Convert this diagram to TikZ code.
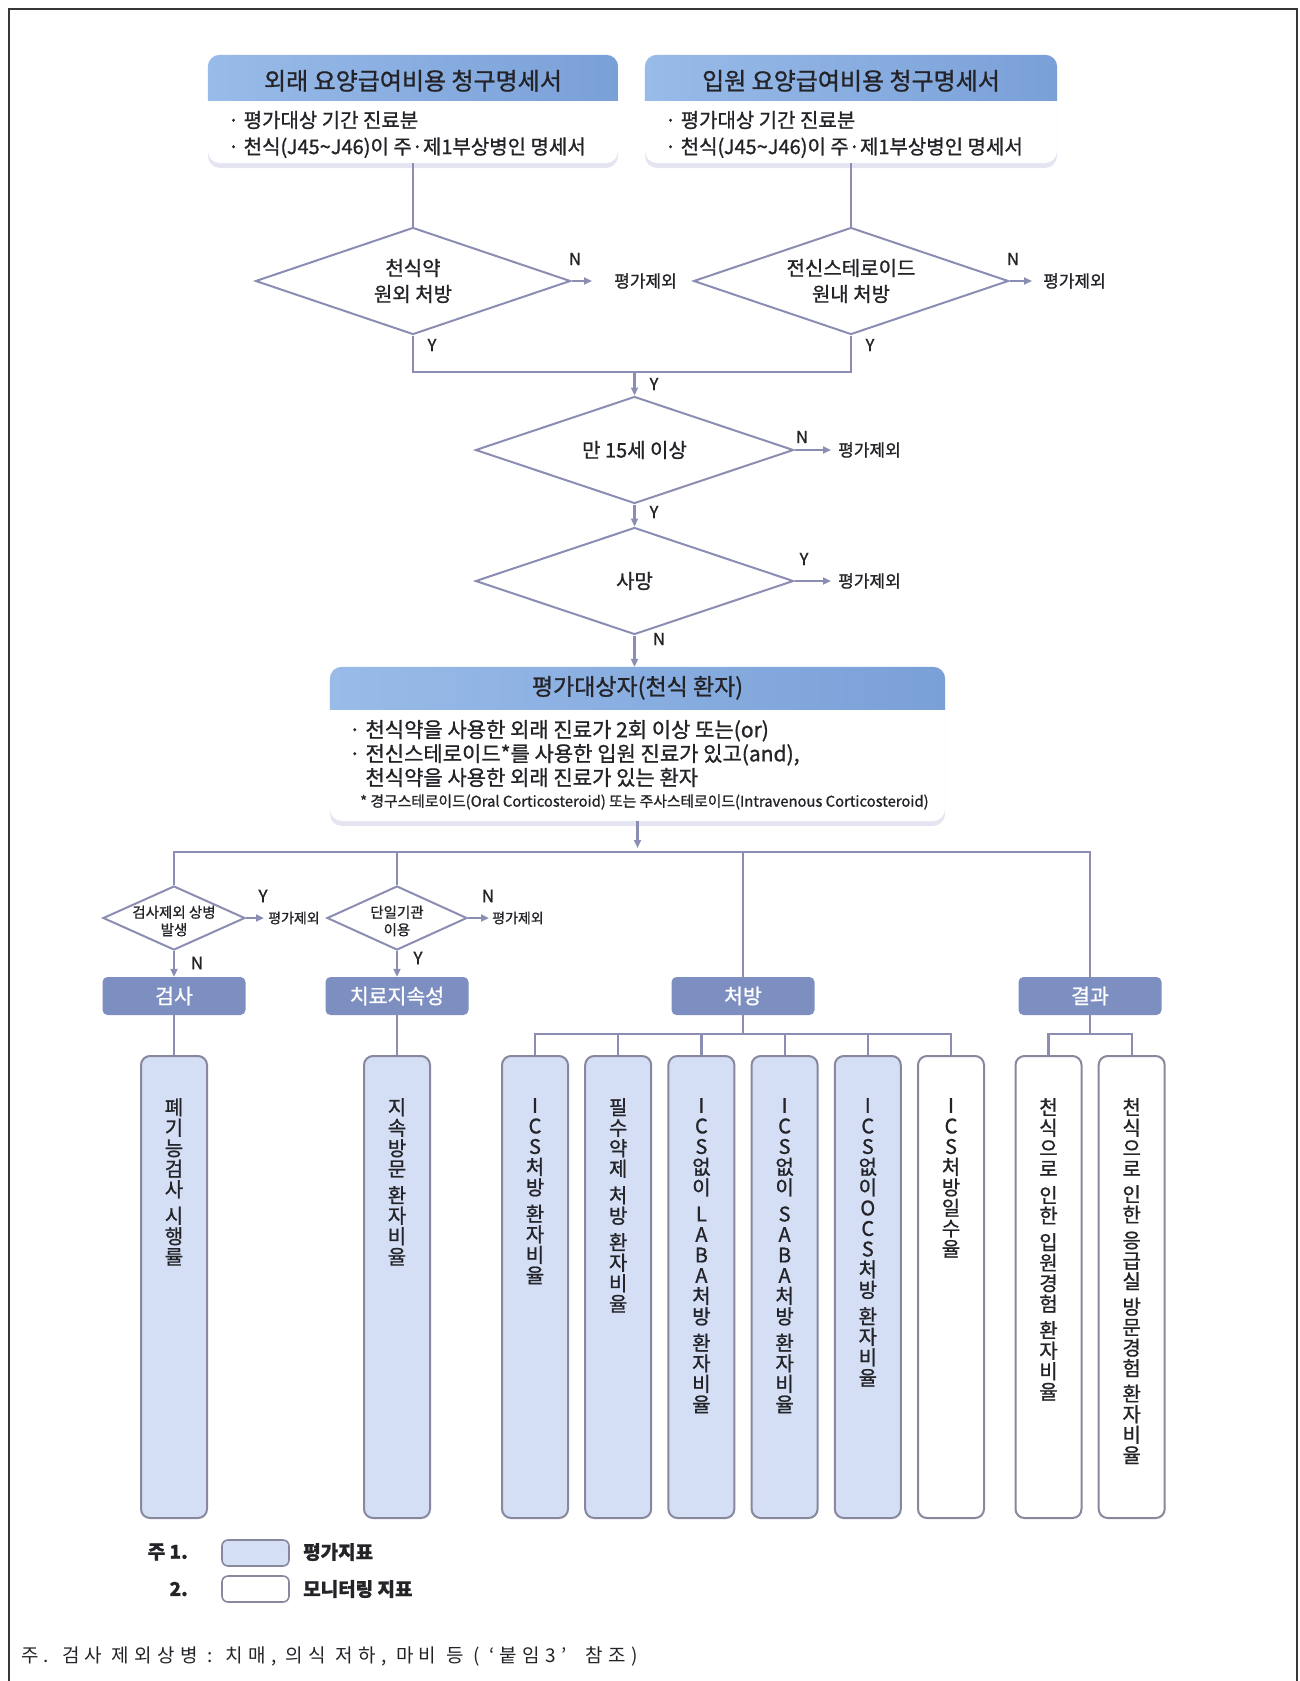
\documentclass[tikz,border=0pt]{standalone}
\usepackage{fontspec}
\setmainfont{Noto Sans CJK KR}[FakeBold=1]
\newfontfamily\notefont{Noto Sans CJK KR}[LetterSpace=28]
\usetikzlibrary{calc,arrows.meta,shapes.geometric,shadows}

\definecolor{flowline}{RGB}{139,141,178}
\definecolor{headlight}{RGB}{152,187,232}
\definecolor{headdark}{RGB}{122,160,216}
\definecolor{catfill}{RGB}{125,143,192}
\definecolor{evalfill}{RGB}{212,223,245}
\definecolor{boxline}{RGB}{135,136,158}
\definecolor{framegray}{RGB}{55,55,55}
\definecolor{shadowc}{RGB}{165,170,210}
\definecolor{inkc}{RGB}{35,35,40}

\tikzset{
  conn/.style={draw=flowline, line width=2.2pt},
  arr/.style={conn, -{Triangle[length=8pt,width=7pt]}},
  decision/.style={diamond, draw=flowline, line width=2pt, fill=white, inner sep=0pt},
  dtext/.style={align=center, inner sep=0pt, text=inkc, font=\fontsize{20}{26}\selectfont},
  dsmall/.style={align=center, inner sep=0pt, text=inkc, font=\fontsize{14.5}{17.5}\selectfont},
  excl/.style={anchor=west, inner sep=1pt, text=inkc, font=\fontsize{17}{18}\selectfont},
  exsmall/.style={excl, font=\fontsize{14}{16}\selectfont},
  yn/.style={inner sep=0pt, text=inkc, font=\fontsize{16.5}{18}\selectfont},
  ynbig/.style={yn, font=\fontsize{17}{18}\selectfont},
  infobox/.style={fill=white, rounded corners=12pt,
    drop shadow={shadow xshift=0pt, shadow yshift=-5pt, opacity=0.3, fill=shadowc}},
  headtext/.style={inner sep=0pt, text=inkc, font=\fontsize{24}{26}\selectfont},
  bodytext/.style={anchor=north west, align=left, inner sep=0pt, text=inkc, font=\fontsize{20}{26.5}\selectfont},
  category/.style={fill=catfill, rounded corners=5pt, minimum width=143pt, minimum height=38pt,
    text=white, font=\fontsize{20.5}{22}\selectfont},
  indicator/.style={draw=boxline, line width=2pt, rounded corners=9pt, minimum width=66pt, minimum height=462pt},
  evalind/.style={indicator, fill=evalfill},
  monind/.style={indicator, fill=white},
  vtext/.style={anchor=north, inner sep=0pt, align=center, text=inkc, font=\fontsize{20}{20.5}\selectfont},
  keybox/.style={draw=boxline, line width=1.6pt, rounded corners=6pt, minimum width=67pt, minimum height=26pt},
  keytext/.style={inner sep=0pt, text=inkc, font=\bfseries\fontsize{19}{20}\selectfont}
}

\begin{document}
\begin{tikzpicture}[x=1pt, y=-1pt]
  \useasboundingbox (0,0) rectangle (1300,1681);
  \draw[framegray, line width=2pt] (9,1700) -- (9,9) -- (1297,9) -- (1297,1700);

  \node[infobox, minimum width=410pt, minimum height=108pt] (opbox) at (413,109) {};
  \begin{scope}
    \clip[rounded corners=12pt] (opbox.north west) rectangle (opbox.south east);
    \shade[left color=headlight, right color=headdark] (opbox.north west) rectangle ($(opbox.north east)+(0,-46pt)$);
  \end{scope}
  \node[headtext] (optitle) at ($(opbox.north)+(0,-26pt)$) {외래 요양급여비용 청구명세서};
  \node[bodytext] (opbody) at ($(opbox.north west)+(20pt,-56pt)$)
    {· 평가대상 기간 진료분\\· 천식(J45\textasciitilde J46)이 주·제1부상병인 명세서};

  \node[infobox, minimum width=412pt, minimum height=108pt] (ipbox) at (851,109) {};
  \begin{scope}
    \clip[rounded corners=12pt] (ipbox.north west) rectangle (ipbox.south east);
    \shade[left color=headlight, right color=headdark] (ipbox.north west) rectangle ($(ipbox.north east)+(0,-46pt)$);
  \end{scope}
  \node[headtext] (iptitle) at ($(ipbox.north)+(0,-26pt)$) {입원 요양급여비용 청구명세서};
  \node[bodytext] (ipbody) at ($(ipbox.north west)+(20pt,-56pt)$)
    {· 평가대상 기간 진료분\\· 천식(J45\textasciitilde J46)이 주·제1부상병인 명세서};

  \node[decision, minimum width=315pt, minimum height=107pt,
    label={[dtext, name=d1t]center:{천식약\\원외 처방}}] (d1) at (413,281) {};
  \node[decision, minimum width=315pt, minimum height=107pt,
    label={[dtext, name=d2t]center:{전신스테로이드\\원내 처방}}] (d2) at (851,281) {};
  \draw[conn] (opbox.south) -- (d1.north);
  \draw[conn] (ipbox.south) -- (d2.north);

  \node[excl] (ex1) at (613,281) {평가제외};
  \node[excl] (ex2) at (1042,281) {평가제외};
  \draw[arr, shorten >=21pt] (d1.east) -- (ex1.west);
  \draw[arr, shorten >=10pt] (d2.east) -- (ex2.west);
  \node[yn] (n1) at (575,259) {N};
  \node[yn] (n2) at (1013,259) {N};
  \node[yn] (y1) at (432,345) {Y};
  \node[yn] (y2) at (870,345) {Y};

  \coordinate (merge) at (634.5,372);
  \draw[conn] (d1.south) |- (merge) -| (d2.south);
  \node[yn] (y12) at (654,384) {Y};

  \node[decision, minimum width=318pt, minimum height=107pt,
    label={[dtext, name=d3t]center:{만 15세 이상}}] (d3) at (634.5,450) {};
  \node[decision, minimum width=318pt, minimum height=107pt,
    label={[dtext, name=d4t]center:{사망}}] (d4) at (634.5,581) {};
  \draw[arr] (merge) -- (d3.north);
  \draw[arr] (d3.south) -- (d4.north);
  \node[yn] (y3) at (654,512) {Y};
  \node[excl] (ex3) at (837,450) {평가제외};
  \node[excl] (ex4) at (837,581) {평가제외};
  \draw[arr, shorten >=6pt] (d3.east) -- (ex3.west);
  \draw[arr, shorten >=6pt] (d4.east) -- (ex4.west);
  \node[yn] (n3) at (802,437) {N};
  \node[yn] (y4) at (804,559) {Y};
  \node[yn] (n4) at (659,639) {N};

  \node[infobox, minimum width=615pt, minimum height=154pt] (tbox) at (637.5,744) {};
  \begin{scope}
    \clip[rounded corners=12pt] (tbox.north west) rectangle (tbox.south east);
    \shade[left color=headlight, right color=headdark] (tbox.north west) rectangle ($(tbox.north east)+(0,-43pt)$);
  \end{scope}
  \draw[arr] (d4.south) -- (d4.south |- tbox.north);
  \node[headtext, font=\fontsize{23}{26}\selectfont] (ttitle) at ($(tbox.north)+(0,-21pt)$) {평가대상자(천식 환자)};
  \node[bodytext, font=\fontsize{21}{24}\selectfont] (tbody) at ($(tbox.north west)+(19pt,-53pt)$)
    {· 천식약을 사용한 외래 진료가 2회 이상 또는(or)\\· 전신스테로이드*를 사용한 입원 진료가 있고(and),\\\phantom{· }천식약을 사용한 외래 진료가 있는 환자};
  \node[anchor=west, inner sep=0pt, text=inkc, font=\fontsize{14.8}{16}\selectfont] (tnote) at (360,802)
    {* 경구스테로이드(Oral Corticosteroid) 또는 주사스테로이드(Intravenous Corticosteroid)};

  \coordinate (bus) at (637.5,852);
  \draw[arr, shorten >=4pt] (tbox.south) -- (bus);

  \node[decision, minimum width=142pt, minimum height=64pt,
    label={[dsmall, name=d5t, yshift=-3pt]center:{검사제외 상병\\발생}}] (d5) at (174,918) {};
  \node[decision, minimum width=140pt, minimum height=64pt,
    label={[dsmall, name=d6t, yshift=-3pt]center:{단일기관\\이용}}] (d6) at (397,918) {};
  \node[exsmall] (ex5) at (267,918) {평가제외};
  \node[exsmall] (ex6) at (491,918) {평가제외};
  \draw[arr, shorten >=3pt] (d5.east) -- (ex5.west);
  \draw[arr, shorten >=2pt] (d6.east) -- (ex6.west);
  \node[ynbig] (y5) at (263,896) {Y};
  \node[ynbig] (n6) at (488,896) {N};
  \node[ynbig] (n5) at (197,963) {N};
  \node[ynbig] (y6) at (418,958) {Y};

  \node[category] (cat1) at (174,996) {검사};
  \node[category] (cat2) at (397,996) {치료지속성};
  \node[category] (cat3) at (743,996) {처방};
  \node[category] (cat4) at (1090,996) {결과};

  \draw[conn] (d5.north) |- (bus) -| (cat4.north);
  \draw[conn] (d6.north) -- (d6.north |- bus);
  \draw[conn] (cat3.north) -- (cat3.north |- bus);
  \draw[arr] (d5.south) -- (cat1.north);
  \draw[arr] (d6.south) -- (cat2.north);

  \node[evalind] (i1) at (174,1287) {};
  \node[evalind] (i2) at (397,1287) {};
  \node[evalind] (i3) at (535,1287) {};
  \node[evalind] (i4) at (618.2,1287) {};
  \node[evalind] (i5) at (701.4,1287) {};
  \node[evalind] (i6) at (784.6,1287) {};
  \node[evalind] (i7) at (867.8,1287) {};
  \node[monind] (i8) at (951,1287) {};
  \node[monind] (i9) at (1048.5,1287) {};
  \node[monind] (i10) at (1131.7,1287) {};

  \draw[conn] (cat1.south) -- (i1.north);
  \draw[conn] (cat2.south) -- (i2.north);
  \coordinate (rxbus) at (743,1034);
  \draw[conn] (cat3.south) -- (rxbus);
  \draw[conn] (i3.north) |- (rxbus) -| (i8.north);
  \draw[conn] (i4.north) -- (i4.north |- rxbus);
  \draw[conn] (i5.north) -- (i5.north |- rxbus);
  \draw[conn] (i6.north) -- (i6.north |- rxbus);
  \draw[conn] (i7.north) -- (i7.north |- rxbus);
  \coordinate (outbus) at (1090,1034);
  \draw[conn] (cat4.south) -- (outbus);
  \draw[conn] (i9.north) |- (outbus) -| (i10.north);

  \node[vtext] (t1) at ($(i1.north)+(0,-43pt)$) {폐\\기\\능\\검\\사\\[6pt]시\\행\\률};
  \node[vtext] (t2) at ($(i2.north)+(0,-43pt)$) {지\\속\\방\\문\\[6pt]환\\자\\비\\율};
  \node[vtext] (t3) at ($(i3.north)+(0,-43pt)$) {I\\C\\S\\처\\방\\[6pt]환\\자\\비\\율};
  \node[vtext] (t4) at ($(i4.north)+(0,-43pt)$) {필\\수\\약\\제\\[6pt]처\\방\\[6pt]환\\자\\비\\율};
  \node[vtext] (t5) at ($(i5.north)+(0,-43pt)$) {I\\C\\S\\없\\이\\[6pt]L\\A\\B\\A\\처\\방\\[6pt]환\\자\\비\\율};
  \node[vtext] (t6) at ($(i6.north)+(0,-43pt)$) {I\\C\\S\\없\\이\\[6pt]S\\A\\B\\A\\처\\방\\[6pt]환\\자\\비\\율};
  \node[vtext] (t7) at ($(i7.north)+(0,-43pt)$) {I\\C\\S\\없\\이\\O\\C\\S\\처\\방\\[6pt]환\\자\\비\\율};
  \node[vtext] (t8) at ($(i8.north)+(0,-43pt)$) {I\\C\\S\\처\\방\\일\\수\\율};
  \node[vtext] (t9) at ($(i9.north)+(0,-43pt)$) {천\\식\\으\\로\\[6pt]인\\한\\[6pt]입\\원\\경\\험\\[6pt]환\\자\\비\\율};
  \node[vtext] (t10) at ($(i10.north)+(0,-43pt)$) {천\\식\\으\\로\\[5pt]인\\한\\[5pt]응\\급\\실\\[5pt]방\\문\\경\\험\\[5pt]환\\자\\비\\율};

  \node[keybox, fill=evalfill] (key1) at (255.5,1553) {};
  \node[keybox, fill=white] (key2) at (255.5,1589) {};
  \node[keytext, anchor=east] (keyn1) at (188,1552) {주 1.};
  \node[keytext, anchor=east] (keyn2) at (188,1589) {2.};
  \node[keytext, anchor=west] (keyl1) at (303,1552) {평가지표};
  \node[keytext, anchor=west] (keyl2) at (303,1589) {모니터링 지표};

  \node[anchor=west, inner sep=0pt, text=inkc, font=\notefont\fontsize{19}{20}\selectfont] (footnote) at (21,1656)
    {주. 검사 제외상병 : 치매, 의식 저하, 마비 등 ( ‘붙임3’\ \ 참조)};
\end{tikzpicture}
\end{document}
